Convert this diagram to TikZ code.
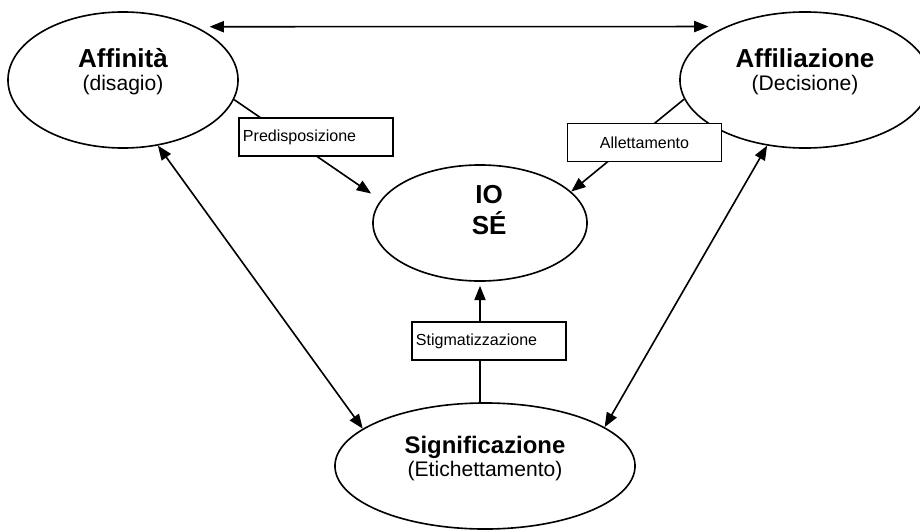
\documentclass[tikz,border=0pt]{standalone}
\usepackage{fontspec}
\setmainfont{Liberation Sans}
\usetikzlibrary{arrows.meta,shapes.geometric,positioning}

\begin{document}
\begin{tikzpicture}[x=0.025cm,y=-0.025cm,
			>={Triangle[length=0.36cm,width=0.28cm]},
			blob/.style={draw,line width=1.15pt,ellipse,inner sep=0pt},
			txt/.style={align=center,font=\fontsize{15}{16.4}\selectfont},
			lbl/.style={draw,line width=0.9pt,fill=white,minimum height=0.95cm,text width=3.65cm,inner xsep=0.1cm,align=left,font=\fontsize{11.4}{13}\selectfont},
			arr/.style={->,line width=1.15pt},
			biarr/.style={<->,line width=1.15pt}
			]
			\useasboundingbox (0,0) rectangle (920,532);
			% ellissi
			\node[blob,minimum width=5.75cm,minimum height=3.4cm] (aff) at (123,80) {};
			\node[blob,minimum width=6.25cm,minimum height=3.4cm] (afl) at (805,80) {};
			\node[blob,minimum width=5.35cm,minimum height=2.9cm] (io) at (480,223) {};
			\node[blob,minimum width=7.5cm,minimum height=3.15cm] (sig) at (485,466) {};
			\node[txt] (afftxt) at ([yshift=0.2cm]aff.center) {{\bfseries\fontsize{18.5}{21}\selectfont Affinità}\\(disagio)};
			\node[txt] (afltxt) at ([yshift=0.2cm]afl.center) {{\bfseries\fontsize{18.5}{21}\selectfont Affiliazione}\\(Decisione)};
			\node[txt,font=\bfseries\fontsize{18.5}{22}\selectfont] (iotxt) at ([xshift=0.23cm,yshift=0.33cm]io.center) {IO\\SÉ};
			\node[txt] (sigtxt) at ([yshift=0.18cm]sig.center) {{\bfseries\fontsize{17}{20}\selectfont Significazione}\\(Etichettamento)};
			% frecce
			\draw[biarr,shorten <=0.33cm,shorten >=0.43cm] (aff.36) -- (afl.146);
			\draw[biarr] (aff.-62) -- (sig.163);
			\draw[biarr] (afl.240) -- (sig.18);
			\draw[arr,shorten >=0.29cm] (aff.-10) -- (io.167);
			\draw[arr] (afl.189) -- (io.19);
			\draw[arr,shorten >=0.1cm] (io.south |- sig.north) -- (io.south);
			% etichette
			\node[lbl] (pred) at (316,137) {Predisposizione};
			\node[lbl,align=center] (allet) at (644.5,142.5) {Allettamento};
			\node[lbl] (stig) at (489,341) {Stigmatizzazione};
		\end{tikzpicture}
\end{document}
